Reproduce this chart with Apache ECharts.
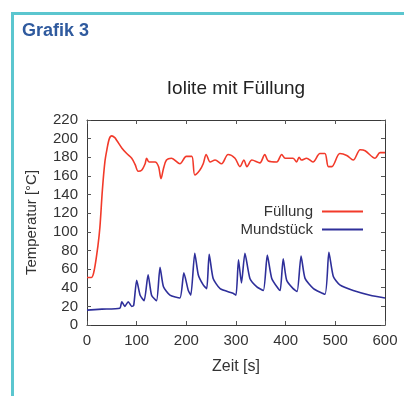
<!DOCTYPE html>
<html>
<head>
<meta charset="utf-8">
<script src="https://cdn.jsdelivr.net/npm/echarts@6/dist/echarts.min.js"></script>
<style>
    html, body { margin: 0; padding: 0; background: #fff; }
    #frame {
        position: absolute; left: 11px; top: 12px; width: 393px; height: 384px;
        border-left: 3px solid #5bc6cf; border-top: 3px solid #5bc6cf; box-sizing: border-box;
    }
    #main { position: absolute; left: 0; top: 0; width: 404px; height: 396px; }
</style>
</head>
<body>
<div id="frame"></div>
<div id="main"></div>
<script>
// Füllung (rot): [Zeit s, Temperatur °C]
var fuellung = [
    [0, 51], [9, 51], [15, 60], [22, 85], [26, 105], [31, 145], [36, 175], [40, 188], [45, 200], [50, 203],
    [56, 201], [60, 198], [70, 190], [80, 184], [90, 179], [97, 172], [103, 165], [110, 166], [117, 173],
    [120, 179], [125, 175], [137, 175], [144, 170], [149, 157], [154, 168], [160, 177], [170, 179],
    [187, 173], [200, 181], [211, 181], [217, 161], [227, 166], [234, 173], [240, 183], [248, 175],
    [258, 177], [271, 173], [284, 183], [298, 179], [308, 170], [316, 177], [322, 170], [332, 177],
    [348, 174], [358, 183], [365, 176], [382, 175], [392, 183], [399, 179], [415, 179], [422, 175],
    [427, 180], [432, 177], [442, 179], [455, 175], [469, 184], [479, 184], [486, 170], [493, 170],
    [509, 184], [523, 182], [536, 177], [550, 188], [560, 187], [580, 179], [590, 185], [600, 185]
];
// Mundstück (blau)
var mundstueck = [
    [0, 16], [30, 17], [66, 18], [70, 25], [76, 20], [83, 25], [90, 20], [94, 21], [100, 48], [107, 32],
    [115, 26], [123, 54], [130, 32], [140, 26], [147, 62], [154, 41], [167, 32], [187, 29], [195, 56],
    [204, 37], [209, 32], [217, 77], [224, 54], [234, 43], [241, 39], [246, 76], [254, 50], [268, 39],
    [294, 34], [300, 32], [305, 70], [311, 45], [318, 77], [328, 50], [342, 41], [355, 37], [363, 75],
    [372, 50], [385, 39], [389, 37], [395, 71], [402, 48], [415, 39], [423, 36], [431, 74], [439, 50],
    [456, 39], [479, 33], [487, 78], [496, 52], [509, 43], [536, 37], [570, 32], [600, 29]
];
var xTicks = [0, 100, 200, 300, 400, 500, 600];
var yTicks = [0, 20, 40, 60, 80, 100, 120, 140, 160, 180, 200, 220];

var myChart = echarts.init(document.getElementById('main'));
var font = 'Liberation Sans, Arial, sans-serif';
// gnuplot-artiger Rahmen: Achsen auf allen vier Seiten, Ticks nach innen
function axisCommon(extra) {
    return Object.assign({
        axisLine: { show: true, onZero: false, lineStyle: { color: '#3a3a3a', width: 1 } },
        axisTick: { show: true, inside: true, length: 4, lineStyle: { color: '#555' } },
        splitLine: { show: false }
    }, extra);
}
var option = {
    animation: false,
    textStyle: { fontFamily: font },
    grid: { left: 87, right: 19, top: 120, bottom: 71 },
    graphic: [
        {
            type: 'text', left: 22, top: 22,
            style: { text: 'Grafik 3', font: 'bold 18px ' + font, fill: '#2f5a9e' }
        },
        {
            type: 'text', x: 236, y: 89,
            style: { text: 'Iolite mit Füllung', font: '19px ' + font, fill: '#222', align: 'center', verticalAlign: 'middle' }
        }
    ],
    legend: {
        orient: 'vertical', right: 36, top: 199, align: 'right',
        icon: 'rect', itemWidth: 41, itemHeight: 2, itemGap: 3,
        textStyle: { fontSize: 15, color: '#333', padding: [0, 4, 0, 0] },
        data: ['Füllung', 'Mundstück']
    },
    xAxis: [
        axisCommon({
            type: 'value', min: 0, max: xTicks[xTicks.length - 1], interval: 100,
            name: 'Zeit [s]', nameLocation: 'middle', nameGap: 34,
            nameTextStyle: { fontSize: 16, color: '#333' },
            axisLabel: { fontSize: 15, color: '#333', margin: 8 }
        }),
        axisCommon({
            type: 'value', min: 0, max: xTicks[xTicks.length - 1], interval: 100, position: 'top',
            axisLabel: { show: false }
        })
    ],
    yAxis: [
        axisCommon({
            type: 'value', min: 0, max: yTicks[yTicks.length - 1], interval: 20,
            name: 'Temperatur [°C]', nameLocation: 'middle', nameGap: 48,
            nameTextStyle: { fontSize: 15, color: '#333' },
            axisLabel: { fontSize: 15, color: '#333', margin: 9 }
        }),
        axisCommon({
            type: 'value', min: 0, max: yTicks[yTicks.length - 1], interval: 20, position: 'right',
            axisLabel: { show: false }
        })
    ],
    series: [
        {
            name: 'Füllung', type: 'line', data: fuellung, symbol: 'none', smooth: 0.3,
            lineStyle: { color: '#f23a2a', width: 1.6 }, itemStyle: { color: '#f23a2a' }
        },
        {
            name: 'Mundstück', type: 'line', data: mundstueck, symbol: 'none', smooth: 0.2,
            lineStyle: { color: '#2e2f9a', width: 1.6 }, itemStyle: { color: '#2e2f9a' }
        }
    ]
};
myChart.setOption(option);
</script>
</body>
</html>
